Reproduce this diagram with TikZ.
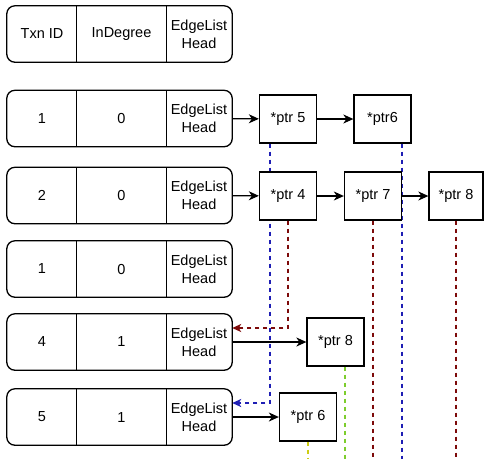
\documentclass[tikz,border=0pt]{standalone}
\usepackage{fontspec}
\setmainfont{Liberation Sans}
\usepackage{tikz}
\usepackage{xcolor}
\definecolor{txblue}{RGB}{30, 30, 180}
\definecolor{txred}{RGB}{125, 10, 10}
\definecolor{txgreen}{RGB}{125, 205, 45}
\definecolor{txyellow}{RGB}{205, 205, 20}
\usetikzlibrary{arrows.meta,backgrounds}

\tikzset{
    cell/.style={inner sep=0pt, minimum height=56pt, align=center},
    idcell/.style={cell, minimum width=70pt},
    degcell/.style={cell, minimum width=89pt},
    headcell/.style={cell, minimum width=66pt},
    rowframe/.style={line width=1.3pt, rounded corners=8pt},
    ptrbox/.style={draw, line width=1.3pt, fill=white, minimum width=57pt, minimum height=48pt, inner sep=0pt},
    link/.style={line width=1.2pt, -{Stealth[length=10pt, width=9pt, inset=3pt]}},
    back/.style={line width=1.8pt, dash pattern=on 4pt off 4pt},
    backtip/.style={back, -{Stealth[length=9pt, width=8pt, inset=2.5pt]}}
}

\begin{document}
\begin{tikzpicture}[x=1pt, y=-1pt, font=\fontsize{14.5}{18}\selectfont]
    \useasboundingbox (0, 0) rectangle (484, 459);
    \coordinate (floor) at (0, 459);

    % Header row
    \node[idcell] (hid) at (42, 34) {Txn ID};
    \node[degcell] (hdeg) at (121.5, 34) {InDegree};
    \node[headcell] (hhead) at (199, 34) {EdgeList\\Head};
    \draw[rowframe] (hid.north west) rectangle (hhead.south east);
    \draw[line width=1.3pt] (hdeg.north west) -- (hdeg.south west) (hdeg.north east) -- (hdeg.south east);

    % Transaction rows
    \node[idcell] (r1id) at (42, 118.5) {1};
    \node[degcell] (r1deg) at (121.5, 118.5) {0};
    \node[headcell] (r1head) at (199, 118.5) {EdgeList\\Head};
    \draw[rowframe] (r1id.north west) rectangle (r1head.south east);
    \draw[line width=1.3pt] (r1deg.north west) -- (r1deg.south west) (r1deg.north east) -- (r1deg.south east);

    \node[idcell] (r2id) at (42, 195.5) {2};
    \node[degcell] (r2deg) at (121.5, 195.5) {0};
    \node[headcell] (r2head) at (199, 195.5) {EdgeList\\Head};
    \draw[rowframe] (r2id.north west) rectangle (r2head.south east);
    \draw[line width=1.3pt] (r2deg.north west) -- (r2deg.south west) (r2deg.north east) -- (r2deg.south east);

    \node[idcell] (r3id) at (42, 269) {1};
    \node[degcell] (r3deg) at (121.5, 269) {0};
    \node[headcell] (r3head) at (199, 269) {EdgeList\\Head};
    \draw[rowframe] (r3id.north west) rectangle (r3head.south east);
    \draw[line width=1.3pt] (r3deg.north west) -- (r3deg.south west) (r3deg.north east) -- (r3deg.south east);

    \node[idcell] (r4id) at (42, 342) {4};
    \node[degcell] (r4deg) at (121.5, 342) {1};
    \node[headcell] (r4head) at (199, 342) {EdgeList\\Head};
    \draw[rowframe] (r4id.north west) rectangle (r4head.south east);
    \draw[line width=1.3pt] (r4deg.north west) -- (r4deg.south west) (r4deg.north east) -- (r4deg.south east);

    \node[idcell] (r5id) at (42, 417) {5};
    \node[degcell] (r5deg) at (121.5, 417) {1};
    \node[headcell] (r5head) at (199, 417) {EdgeList\\Head};
    \draw[rowframe] (r5id.north west) rectangle (r5head.south east);
    \draw[line width=1.3pt] (r5deg.north west) -- (r5deg.south west) (r5deg.north east) -- (r5deg.south east);

    % Edge list entries
    \node[ptrbox] (p15) at (288, 119) {*ptr 5};
    \node[ptrbox] (p16) at (382.5, 119) {*ptr6};
    \node[ptrbox] (p24) at (288, 196) {*ptr 4};
    \node[ptrbox] (p27) at (373, 196) {*ptr 7};
    \node[ptrbox, minimum width=54pt] (p28) at (456, 196) {*ptr 8};
    \node[ptrbox] (p48) at (335.5, 342) {*ptr 8};
    \node[ptrbox] (p56) at (308, 417) {*ptr 6};

    % List links
    \draw[link] (r1head) -- (p15);
    \draw[link] (p15) -- (p16);
    \draw[link] (r2head) -- (p24);
    \draw[link] (p24) -- (p27);
    \draw[link] (p27) -- (p28);
    \draw[link] (r4head) -- (p48);
    \draw[link] (r5head) -- (p56);

    % Pointers back to the rows (behind the boxes)
    \begin{pgfonlayer}{background}
        \draw[backtip, txblue] ([xshift=-18pt]p15.south) |- ([yshift=14pt]r5head.east);
        \draw[backtip, txred] (p24.south) |- ([yshift=14pt]r4head.east);
        \draw[back, txblue] ([xshift=-10pt]p16.south east) -- ([xshift=-10pt]p16.south east |- floor);
        \draw[back, txred] (p27.south) -- (p27.south |- floor);
        \draw[back, txred] (p28.south) -- (p28.south |- floor);
        \draw[back, txgreen] ([xshift=9.5pt]p48.south) -- ([xshift=9.5pt]p48.south |- floor);
        \draw[back, txyellow] (p56.south) -- (p56.south |- floor);
    \end{pgfonlayer}
\end{tikzpicture}
\end{document}
